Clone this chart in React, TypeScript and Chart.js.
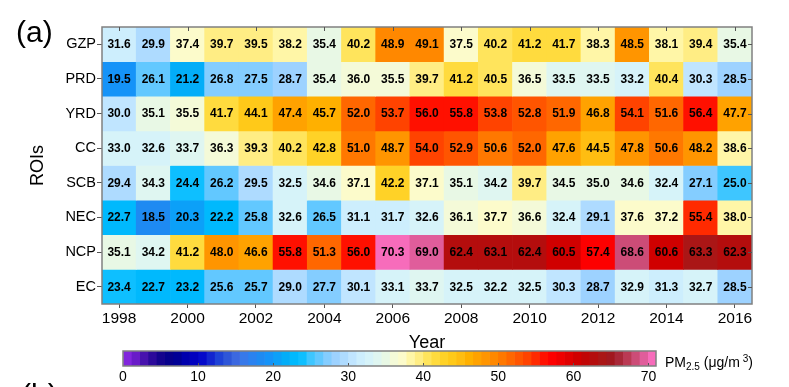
import React, { useEffect, useRef } from "react";
import { Chart, registerables } from "chart.js";

Chart.register(...registerables);

// ---------- data ----------
const years = ["1998", "1999", "2000", "2001", "2002", "2003", "2004", "2005", "2006", "2007", "2008", "2009", "2010", "2011", "2012", "2013", "2014", "2015", "2016"];
const regions = ["GZP", "PRD", "YRD", "CC", "SCB", "NEC", "NCP", "EC"];

const GZP = [31.6, 29.9, 37.4, 39.7, 39.5, 38.2, 35.4, 40.2, 48.9, 49.1, 37.5, 40.2, 41.2, 41.7, 38.3, 48.5, 38.1, 39.4, 35.4];
const PRD = [19.5, 26.1, 21.2, 26.8, 27.5, 28.7, 35.4, 36.0, 35.5, 39.7, 41.2, 40.5, 36.5, 33.5, 33.5, 33.2, 40.4, 30.3, 28.5];
const YRD = [30.0, 35.1, 35.5, 41.7, 44.1, 47.4, 45.7, 52.0, 53.7, 56.0, 55.8, 53.8, 52.8, 51.9, 46.8, 54.1, 51.6, 56.4, 47.7];
const CC = [33.0, 32.6, 33.7, 36.3, 39.3, 40.2, 42.8, 51.0, 48.7, 54.0, 52.9, 50.6, 52.0, 47.6, 44.5, 47.8, 50.6, 48.2, 38.6];
const SCB = [29.4, 34.3, 24.4, 26.2, 29.5, 32.5, 34.6, 37.1, 42.2, 37.1, 35.1, 34.2, 39.7, 34.5, 35.0, 34.6, 32.4, 27.1, 25.0];
const NEC = [22.7, 18.5, 20.3, 22.2, 25.8, 32.6, 26.5, 31.1, 31.7, 32.6, 36.1, 37.7, 36.6, 32.4, 29.1, 37.6, 37.2, 55.4, 38.0];
const NCP = [35.1, 34.2, 41.2, 48.0, 46.6, 55.8, 51.3, 56.0, 70.3, 69.0, 62.4, 63.1, 62.4, 60.5, 57.4, 68.6, 60.6, 63.3, 62.3];
const EC = [23.4, 22.7, 23.2, 25.6, 25.7, 29.0, 27.7, 30.1, 33.1, 33.7, 32.5, 32.2, 32.5, 30.3, 28.7, 32.9, 31.3, 32.7, 28.5];

const rows = [GZP, PRD, YRD, CC, SCB, NEC, NCP, EC];

const cbTicks = [0, 10, 20, 30, 40, 50, 60, 70];
const CB_MIN = 0;
const CB_MAX = 71;
const LEVELS = 64;

// ---------- colormap (style) ----------
const STOPS: [number, string][] = [
  [0, "#8a2be2"], [1, "#7a20d8"], [2, "#6018c0"], [3, "#4010a8"], [4, "#280898"],
  [5.5, "#0a0088"], [7, "#000090"], [8, "#0000a8"], [9, "#0000b8"], [10, "#0000c8"],
  [11, "#0810cc"], [12, "#1830d0"], [13, "#2048d8"], [14, "#3058d8"], [15, "#3c68e0"],
  [16, "#3878e8"], [17, "#2c80f0"], [18, "#2088f0"], [19, "#1890f8"], [20, "#1098f8"],
  [21, "#08a8f8"], [22, "#00b0f8"], [23, "#00bcff"], [24, "#10c0ff"], [25, "#40c6ff"],
  [26, "#60c8ff"], [27, "#80ccff"], [28, "#98d0ff"], [29, "#a8d8ff"], [30, "#b8e0ff"],
  [31, "#c8eaff"], [32, "#d0f0fc"], [33, "#d8f4f8"], [34, "#e0f6f0"], [35, "#e8f8e4"],
  [36, "#f4fad8"], [37, "#fcfcd0"], [38, "#fff8b0"], [39, "#fff090"], [40, "#ffe870"],
  [41, "#ffe048"], [42, "#ffd838"], [43, "#ffd020"], [44, "#ffc818"], [45, "#ffbc10"],
  [46, "#ffb000"], [47, "#ffa400"], [48, "#ff9800"], [49, "#ff8c00"], [50, "#ff8000"],
  [51, "#ff7000"], [52, "#ff6000"], [53, "#ff5000"], [54, "#ff4000"], [55, "#ff2800"],
  [56, "#ff1000"], [57, "#ff0000"], [58, "#f20000"], [59, "#e40000"], [60, "#d60000"],
  [61, "#c80000"], [62, "#bc0808"], [63, "#b01010"], [64, "#a81818"], [65, "#a01820"],
  [66, "#a82838"], [67, "#b83850"], [68, "#c84870"], [69, "#d85890"], [70, "#f068b0"],
  [71, "#ff70c8"],
];

function hexToRgb(h: string) {
  return [parseInt(h.slice(1, 3), 16), parseInt(h.slice(3, 5), 16), parseInt(h.slice(5, 7), 16)];
}
function interp(v: number) {
  if (v <= STOPS[0][0]) return STOPS[0][1];
  for (let i = 1; i < STOPS.length; i++) {
    if (v <= STOPS[i][0]) {
      const [v0, c0] = STOPS[i - 1];
      const [v1, c1] = STOPS[i];
      const t = (v - v0) / (v1 - v0);
      const a = hexToRgb(c0);
      const b = hexToRgb(c1);
      const c = a.map((x, k) => Math.round(x + (b[k] - x) * t));
      return `rgb(${c[0]},${c[1]},${c[2]})`;
    }
  }
  return STOPS[STOPS.length - 1][1];
}
const step = (CB_MAX - CB_MIN) / LEVELS;
function levelOf(v: number) {
  return Math.min(LEVELS - 1, Math.max(0, Math.floor((v - CB_MIN) / step)));
}
function levelColor(l: number) {
  return interp(CB_MIN + (l + 0.5) * step);
}
function colorFor(v: number) {
  return levelColor(levelOf(v));
}

const FONT = "'Liberation Sans', Arial, Helvetica, sans-serif";
const FRAME = "#808080";

// ---------- plugins ----------
const cellLabels = {
  id: "cellLabels",
  afterDatasetsDraw(chart: any) {
    const ctx = chart.ctx;
    ctx.save();
    ctx.font = `bold 12px ${FONT}`;
    ctx.fillStyle = "#000";
    ctx.textAlign = "center";
    ctx.textBaseline = "middle";
    chart.data.datasets.forEach((ds: any, di: number) => {
      const meta = chart.getDatasetMeta(di);
      meta.data.forEach((el: any, i: number) => {
        const p = el.getProps(["x", "y", "base"], true);
        ctx.fillText(ds.values[i].toFixed(1), p.x, (p.y + p.base) / 2 + 0.5);
      });
    });
    ctx.restore();
  },
};

const mainFrame = {
  id: "mainFrame",
  afterDraw(chart: any) {
    const { ctx, chartArea: a, scales } = chart;
    ctx.save();
    ctx.strokeStyle = FRAME;
    ctx.lineWidth = 1.5;
    ctx.strokeRect(a.left, a.top, a.right - a.left, a.bottom - a.top);
    ctx.strokeStyle = "#555";
    ctx.lineWidth = 1;
    ctx.beginPath();
    years.forEach((_, i) => {
      if (i % 2 === 0) {
        const x = Math.round(scales.x.getPixelForValue(i)) + 0.5;
        ctx.moveTo(x, a.top);
        ctx.lineTo(x, a.top + 4);
      }
    });
    regions.forEach((_, r) => {
      const y = Math.round(scales.y.getPixelForValue(regions.length - r - 0.5)) + 0.5;
      ctx.moveTo(a.right, y);
      ctx.lineTo(a.right - 4, y);
    });
    ctx.stroke();
    ctx.restore();
  },
};

const cbFrame = {
  id: "cbFrame",
  afterDraw(chart: any) {
    const { ctx, chartArea: a, scales } = chart;
    ctx.save();
    ctx.strokeStyle = "#555";
    ctx.lineWidth = 1;
    ctx.beginPath();
    cbTicks.forEach((t) => {
      if (t === 0) return;
      const x = Math.round(scales.x.getPixelForValue(t)) + 0.5;
      ctx.moveTo(x, a.bottom);
      ctx.lineTo(x, a.bottom - 3);
    });
    ctx.stroke();
    ctx.strokeStyle = FRAME;
    ctx.lineWidth = 1.5;
    ctx.strokeRect(a.left, a.top, a.right - a.left, a.bottom - a.top);
    ctx.restore();
  },
};

export default function App() {
  const mainRef = useRef<HTMLCanvasElement>(null);
  const cbRef = useRef<HTMLCanvasElement>(null);

  useEffect(() => {
    Chart.defaults.font.family = FONT;
    Chart.defaults.color = "#000";
    const nRows = regions.length;

    const main = new Chart(mainRef.current as HTMLCanvasElement, {
      type: "bar",
      data: {
        labels: years,
        datasets: rows.map((vals, r) => ({
          label: regions[r],
          data: vals.map(() => [nRows - 1 - r, nRows - r]),
          values: vals,
          backgroundColor: vals.map(colorFor),
          borderWidth: 0,
          grouped: false,
          barPercentage: 1,
          categoryPercentage: 1,
        })) as any,
      },
      options: {
        animation: false,
        responsive: false,
        maintainAspectRatio: false,
        layout: { padding: { left: 23, top: 27, right: 37, bottom: 0 } },
        plugins: { legend: { display: false }, tooltip: { enabled: false } },
        scales: {
          x: {
            type: "category",
            offset: true,
            border: { display: false },
            grid: {
              offset: false,
              drawOnChartArea: false,
              tickLength: 4,
              color: (c: any) => (c.index % 2 === 0 ? "#555" : "rgba(0,0,0,0)"),
            },
            ticks: {
              autoSkip: false,
              maxRotation: 0,
              padding: 1,
              color: "#000",
              font: { size: 15.5 },
              callback: (_v: any, i: number) => (i % 2 === 0 ? years[i] : ""),
            },
            title: { display: true, text: "Year", color: "#000", font: { size: 18 }, padding: { top: 0, bottom: 1 } },
            afterFit: (s: any) => {
              s.height = 51;
            },
          } as any,
          y: {
            type: "linear",
            min: 0,
            max: nRows,
            border: { display: false },
            grid: { drawOnChartArea: false, tickLength: 5, color: "#555" },
            afterBuildTicks: (s: any) => {
              s.ticks = regions.map((_, i) => ({ value: i + 0.5 }));
            },
            ticks: {
              padding: 1,
              color: "#000",
              font: { size: 14.5 },
              callback: (v: any) => regions[nRows - 1 - Math.floor(Number(v))],
            },
            title: { display: true, text: "ROIs", color: "#000", font: { size: 18 }, padding: { top: 4, bottom: 0 } },
            afterFit: (s: any) => {
              s.width = 79;
            },
          } as any,
        },
      },
      plugins: [cellLabels, mainFrame],
    });

    const levelIdx = Array.from({ length: LEVELS }, (_, i) => i);
    const cb = new Chart(cbRef.current as HTMLCanvasElement, {
      type: "bar",
      data: {
        labels: [""],
        datasets: levelIdx.map((l) => ({
          data: [[CB_MIN + l * step, CB_MIN + (l + 1) * step]],
          backgroundColor: levelColor(l),
          borderWidth: 0,
          grouped: false,
          barPercentage: 1,
          categoryPercentage: 1,
        })) as any,
      },
      options: {
        indexAxis: "y",
        animation: false,
        responsive: false,
        maintainAspectRatio: false,
        layout: { padding: { left: 123, right: 133, top: 11, bottom: 0 } },
        plugins: { legend: { display: false }, tooltip: { enabled: false } },
        scales: {
          x: {
            type: "linear",
            min: CB_MIN,
            max: CB_MAX,
            border: { display: false },
            grid: { display: true, drawOnChartArea: false, drawTicks: false, tickLength: 0 },
            afterBuildTicks: (s: any) => {
              s.ticks = cbTicks.map((v) => ({ value: v }));
            },
            ticks: { padding: 3, color: "#000", font: { size: 14 } },
            afterFit: (s: any) => {
              s.height = 21;
            },
          } as any,
          y: { display: false },
        },
      },
      plugins: [cbFrame],
    });

    return () => {
      main.destroy();
      cb.destroy();
    };
  }, []);

  return (
    <div
      style={{
        position: "fixed",
        left: 0,
        top: 0,
        width: 789,
        height: 387,
        overflow: "hidden",
        background: "#fff",
        fontFamily: FONT,
        color: "#000",
      }}
    >
      <canvas ref={mainRef} width={789} height={355} style={{ position: "absolute", left: 0, top: 0, width: 789, height: 355 }} />
      <canvas ref={cbRef} width={789} height={47} style={{ position: "absolute", left: 0, top: 340, width: 789, height: 47 }} />
      <div style={{ position: "absolute", left: 16, top: 17, fontSize: 30, lineHeight: "30px", whiteSpace: "nowrap" }}>(a)</div>
      <div style={{ position: "absolute", left: 21, top: 380, fontSize: 30, lineHeight: "30px", whiteSpace: "nowrap" }}>(b)</div>
      <div style={{ position: "absolute", left: 665, top: 354, fontSize: 14, lineHeight: "16px", whiteSpace: "nowrap" }}>
        PM<span style={{ fontSize: 10, position: "relative", top: 3 }}>2.5</span> (μg/m<span style={{ fontSize: 10, position: "relative", top: -5 }}> 3</span>)
      </div>
    </div>
  );
}
